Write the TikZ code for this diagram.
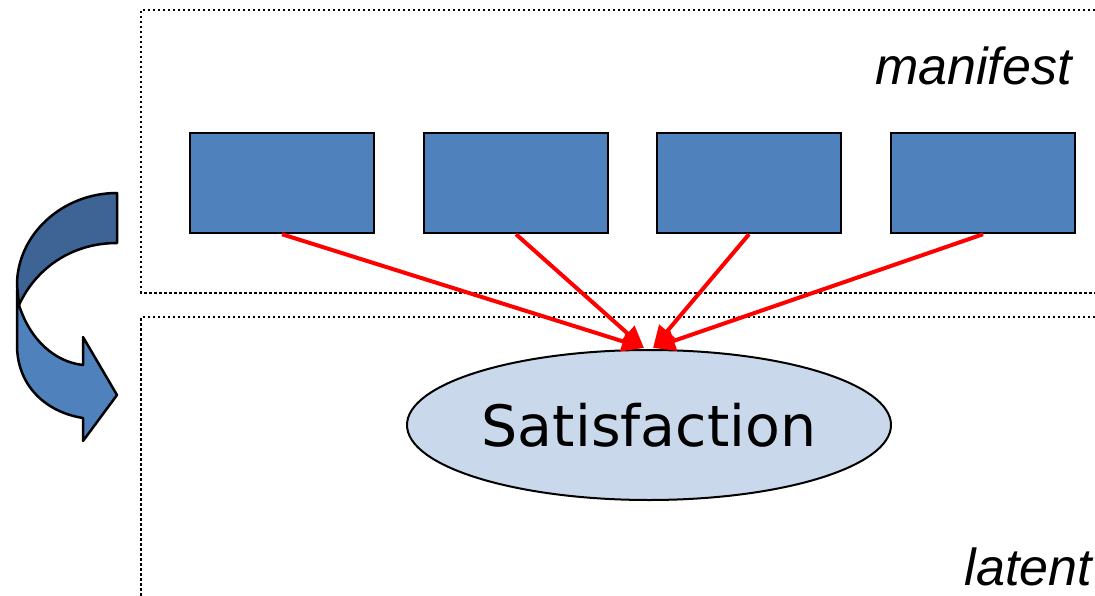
\documentclass[tikz,border=0pt]{standalone}
\usepackage{fontspec}
\setmainfont{Liberation Sans}
\newfontfamily\satfont{DejaVu Sans}
\usepackage{tikz}
\usetikzlibrary{shapes.geometric,arrows.meta}
\definecolor{boxblue}{RGB}{79,129,189}
\definecolor{darkblue}{RGB}{62,100,150}
\definecolor{paleblue}{RGB}{201,217,235}
\tikzstyle{every edge} = [draw,red,line width=4pt,-{Triangle[length=22pt,width=20pt]}]
\tikzstyle{item} = [draw,fill=boxblue,line width=2.5pt,minimum width=184pt,minimum height=100pt,inner sep=0pt]
\tikzstyle{factor} = [draw,ellipse,fill=paleblue,line width=2pt,minimum width=484pt,minimum height=150pt,inner sep=0pt,font=\satfont\fontsize{57}{68}\selectfont]
\tikzstyle{frame} = [line width=2.5pt,dash pattern=on 2.5pt off 2.5pt]
\tikzstyle{level} = [font=\fontsize{52}{60}\selectfont\itshape,inner sep=0pt]

\begin{document}
\begin{tikzpicture}[x=1pt,y=-1pt]
\useasboundingbox (0,0) rectangle (1095,596);

% the two layers
\draw[frame] (1095,10) -| (141,293) -- (1095,293);
\draw[frame] (1095,317) -| (141,596);
\node[level,anchor=base east] (man) at (1072,85) {manifest};
\node[level,anchor=base east] (lat) at (1092,585) {latent};

\node[item] (m1) at (282,183) {};
\node[item] (m2) at (516,183) {};
\node[item] (m3) at (749,183) {};
\node[item] (m4) at (983,183) {};
\node[factor] (sat) at (649,425) {Satisfaction};

\draw (m1.south) edge ([xshift=-5pt,yshift=1pt]sat.north);
\draw (m2.south) edge ([xshift=-5pt,yshift=1pt]sat.north);
\draw (m3.south) edge ([xshift=4pt,yshift=1pt]sat.north);
\draw (m4.south) edge ([xshift=4pt,yshift=1pt]sat.north);

% curved arrow on the left
\draw[fill=boxblue,line width=2.5pt,line join=round] (19,305) .. controls (30,340) and (55,362) .. (83,365)
  -- (83,337) -- (117,395) -- (83,441) -- (83,418)
  .. controls (45,412) and (17,385) .. (17,345) -- (17,290) -- cycle;
\draw[fill=darkblue,line width=2.5pt,line join=round] (117,193) .. controls (62,193) and (17,235) .. (17,285)
  -- (19,305) .. controls (35,270) and (70,243) .. (117,243) -- cycle;

\end{tikzpicture}
\end{document}
